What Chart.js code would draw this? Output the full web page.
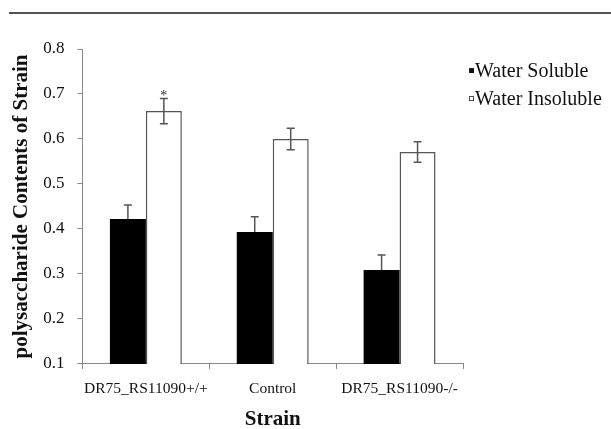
<!DOCTYPE html>
<html>
<head>
<meta charset="utf-8">
<script src="https://cdn.jsdelivr.net/npm/chart.js@4"></script>
<style>
  body { margin: 0; background: #fff; }
  #wrap { position: relative; width: 611px; height: 429px; }
  #rule { position: absolute; left: 9px; top: 12px; width: 602px; height: 2px; background: #555; }
</style>
</head>
<body>
<div id="wrap">
  <div id="rule"></div>
  <canvas id="chart" width="611" height="429"></canvas>
</div>
<script>
// data
const strains = ['DR75_RS11090+/+', 'Control', 'DR75_RS11090-/-'];
const seriesNames = ['Water Soluble', 'Water Insoluble'];
const soluble = [0.422, 0.393, 0.309];
const solubleErr = [0.031, 0.034, 0.033];
const insoluble = [0.662, 0.600, 0.571];
const insolubleErr = [0.028, 0.024, 0.023];
const significance = ['*', '', ''];   // marks above the insoluble bars
const yMin = 0.1, yMax = 0.8, yStep = 0.1;
const legendMarks = ['\u25AA', '\u25AB'];

const serif = '"Liberation Serif", "DejaVu Serif", serif';

// error bars + significance star, drawn through the chart's own scales
const errorBars = {
    id: 'errorBars',
    drawFor(chart, i) {
        const ds = chart.data.datasets[i];
        const meta = chart.getDatasetMeta(i);
        const y = chart.scales.y;
        const ctx = chart.ctx;
        ctx.save();
        ctx.strokeStyle = '#555';
        ctx.lineWidth = 1.5;
        meta.data.forEach((bar, j) => {
            const v = ds.data[j], e = ds.errors[j];
            const top = y.getPixelForValue(v + e);
            const bot = y.getPixelForValue(v - e);
            const x = bar.x;
            ctx.beginPath();
            ctx.moveTo(x, top); ctx.lineTo(x, bot);
            ctx.moveTo(x - 4, top); ctx.lineTo(x + 4, top);
            ctx.moveTo(x - 4, bot); ctx.lineTo(x + 4, bot);
            ctx.stroke();
            if (ds.marks && ds.marks[j]) {
                ctx.fillStyle = '#333';
                ctx.font = '14px ' + serif;
                ctx.textAlign = 'center';
                ctx.textBaseline = 'alphabetic';
                ctx.fillText(ds.marks[j], x, top + 2);
            }
        });
        ctx.restore();
    },
    // black bars hide the lower half of their error bars
    beforeDatasetDraw(chart, args) {
        if (args.index === 0) this.drawFor(chart, 0);
    },
    afterDatasetDraw(chart, args) {
        if (args.index === 1) this.drawFor(chart, 1);
    }
};

const ctx = document.getElementById('chart').getContext('2d');
new Chart(ctx, {
    type: 'bar',
    data: {
        labels: strains,
        datasets: [{
            label: seriesNames[0],
            data: soluble,
            errors: solubleErr,
            backgroundColor: '#000',
            borderWidth: 0
        }, {
            label: seriesNames[1],
            data: insoluble,
            errors: insolubleErr,
            marks: significance,
            backgroundColor: '#fff',
            borderColor: '#555',
            borderWidth: 1.5
        }]
    },
    options: {
        responsive: false,
        animation: false,
        categoryPercentage: 0.567,
        barPercentage: 1.0,
        layout: { padding: { top: 49, left: 7, right: 0, bottom: 0 } },
        plugins: {
            tooltip: { enabled: false },
            legend: {
                position: 'right',
                align: 'start',
                maxWidth: 148,
                title: { display: true, text: '', font: { size: 1, lineHeight: 1 }, padding: { top: 10.5, bottom: 0 } },
                labels: {
                    boxWidth: 0,
                    boxHeight: 33,
                    padding: -5,
                    color: '#111',
                    font: { family: serif, size: 20 },
                    generateLabels: chart => chart.data.datasets.map((ds, i) => ({
                        text: legendMarks[i] + ds.label,
                        fillStyle: 'rgba(0,0,0,0)',
                        strokeStyle: 'rgba(0,0,0,0)',
                        lineWidth: 0,
                        hidden: false,
                        datasetIndex: i,
                        fontColor: '#111'
                    }))
                }
            }
        },
        scales: {
            x: {
                grid: { display: true, drawOnChartArea: false, drawTicks: true, tickLength: 5, color: '#888' },
                border: { color: '#888', width: 1 },
                ticks: { color: '#111', padding: 11, font: { family: serif, size: 15.5 }, maxRotation: 0 },
                title: {
                    display: true,
                    text: 'Strain',
                    color: '#111',
                    font: { family: serif, size: 21, weight: 'bold', lineHeight: 1 },
                    padding: { top: 0, bottom: -1.5 }
                }
            },
            y: {
                min: yMin,
                max: yMax,
                grid: { display: true, drawOnChartArea: false, drawTicks: true, tickLength: 5, color: '#888' },
                border: { color: '#888', width: 1 },
                ticks: {
                    stepSize: yStep,
                    color: '#111',
                    padding: 13,
                    font: { family: serif, size: 17 },
                    callback: v => v.toFixed(1)
                },
                title: {
                    display: true,
                    text: 'polysaccharide Contents of Strain',
                    color: '#111',
                    font: { family: serif, size: 21, weight: 'bold' },
                    padding: { top: 2, bottom: -4 }
                }
            }
        }
    },
    plugins: [errorBars]
});
</script>
</body>
</html>
